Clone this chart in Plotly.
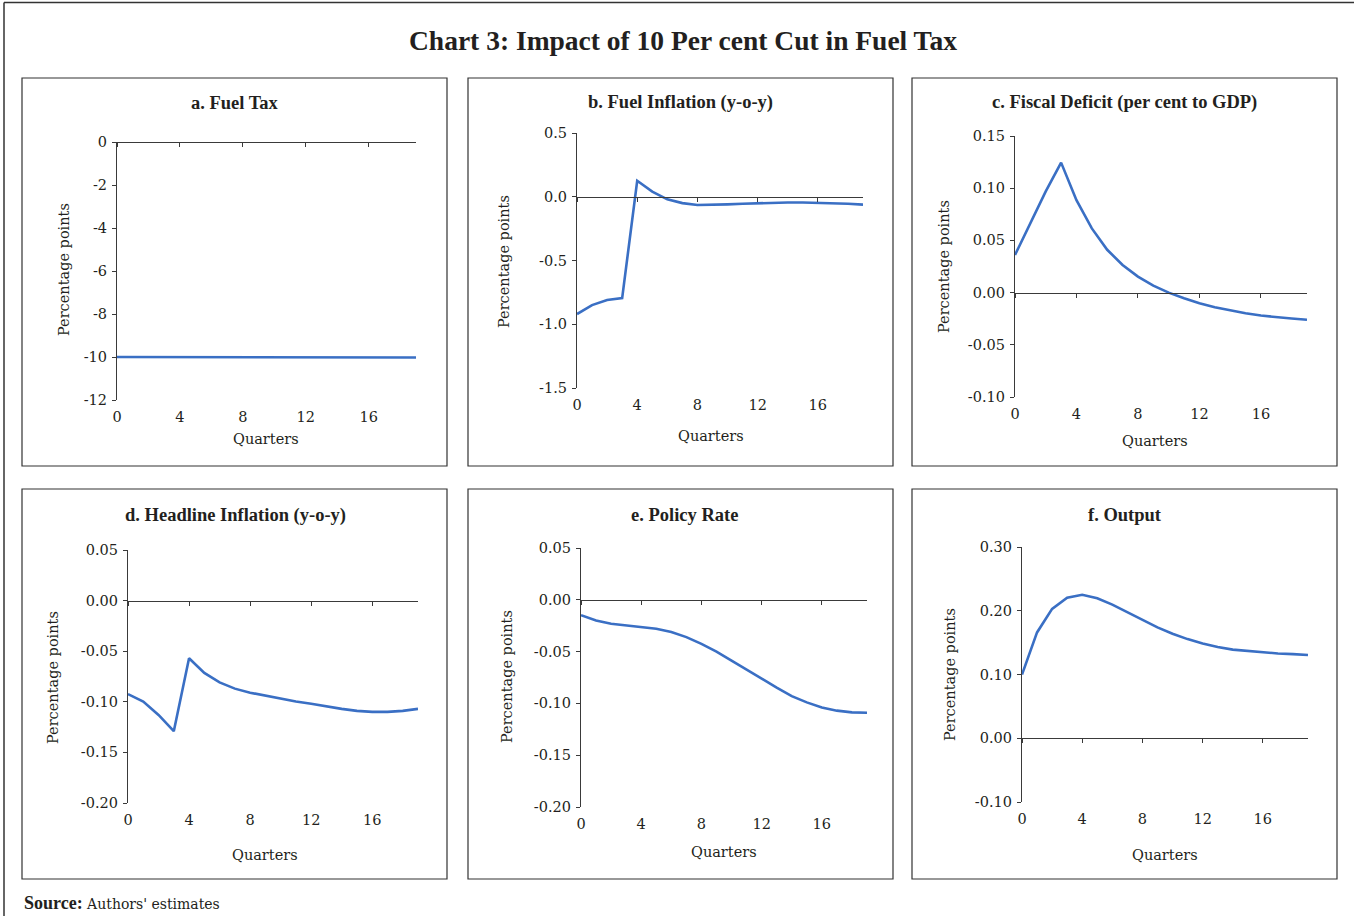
import plotly.graph_objects as go

W, H = 1354, 916

quarters = list(range(20))

fuel_tax = [-10.0] * 10 + [-10.02] * 10
fuel_inflation = [-0.92, -0.85, -0.81, -0.795, 0.125, 0.04, -0.02, -0.05, -0.065, -0.065,
                  -0.06, -0.055, -0.05, -0.045, -0.045, -0.045, -0.047, -0.05, -0.055, -0.062]
fiscal_deficit = [0.036, 0.067, 0.097, 0.1245, 0.0885, 0.0615, 0.041, 0.0265, 0.0153, 0.0067,
                  0.0, -0.0054, -0.0102, -0.014, -0.017, -0.0197, -0.022, -0.0236, -0.0248, -0.026]
headline_inflation = [-0.0924, -0.0997, -0.113, -0.129, -0.057, -0.0715, -0.0808, -0.087, -0.091, -0.094,
                      -0.097, -0.0997, -0.102, -0.1046, -0.107, -0.109, -0.110, -0.110, -0.109, -0.107]
policy_rate = [-0.0148, -0.020, -0.0232, -0.0248, -0.026, -0.028, -0.031, -0.036, -0.0426, -0.050,
               -0.0587, -0.0674, -0.0765, -0.0848, -0.093, -0.099, -0.104, -0.107, -0.1087, -0.109]
output = [0.100, 0.166, 0.203, 0.2205, 0.225, 0.2195, 0.2096, 0.198, 0.1857, 0.174,
          0.164, 0.1555, 0.1487, 0.143, 0.139, 0.1368, 0.1347, 0.133, 0.132, 0.1305]

panel_titles = ["a. Fuel Tax", "b. Fuel Inflation (y-o-y)", "c. Fiscal Deficit (per cent to GDP)",
                "d. Headline Inflation (y-o-y)", "e. Policy Rate", "f. Output"]
series = [fuel_tax, fuel_inflation, fiscal_deficit, headline_inflation, policy_rate, output]

y_tickvals = [
    [0, -2, -4, -6, -8, -10, -12],
    [0.5, 0.0, -0.5, -1.0, -1.5],
    [0.15, 0.10, 0.05, 0.0, -0.05, -0.10],
    [0.05, 0.0, -0.05, -0.10, -0.15, -0.20],
    [0.05, 0.0, -0.05, -0.10, -0.15, -0.20],
    [0.30, 0.20, 0.10, 0.0, -0.10],
]
y_ticktext = [
    ["0", "-2", "-4", "-6", "-8", "-10", "-12"],
    ["0.5", "0.0", "-0.5", "-1.0", "-1.5"],
    ["0.15", "0.10", "0.05", "0.00", "-0.05", "-0.10"],
    ["0.05", "0.00", "-0.05", "-0.10", "-0.15", "-0.20"],
    ["0.05", "0.00", "-0.05", "-0.10", "-0.15", "-0.20"],
    ["0.30", "0.20", "0.10", "0.00", "-0.10"],
]
x_tickvals = [0, 4, 8, 12, 16]
x_ticktext = ["0", "4", "8", "12", "16"]
x_range = [0, 19]

# layout geometry (pixels)
plot_px = [  # x0, x1, y_top, y_bottom
    (117, 416, 142, 400),
    (577, 863, 133, 388),
    (1015, 1307, 136, 397),
    (128, 418, 550, 803),
    (581, 867, 548, 807),
    (1022, 1308, 547, 802),
]
boxes_px = [
    (22, 447, 78, 466), (468, 893, 78, 466), (912, 1337, 78, 466),
    (22, 447, 489, 879), (468, 893, 489, 879), (912, 1337, 489, 879),
]
title_pos = [(235, 103), (680, 103), (1124, 103), (235, 515), (684, 515), (1125, 515)]
ylab_pos = [(64, 270), (504, 262), (944, 267), (53, 677), (507, 677), (950, 675)]
xlab_pos = [(266, 439), (711, 436), (1155, 441), (265, 855), (724, 852), (1165, 855)]


def fx(p):
    return p / W


def fy(p):
    return 1 - p / H


FONT = "DejaVu Serif"
TFONT = "Liberation Serif"
TXT = "#231f20"
AX = "#3a3a3a"
LINE = "#3a6fc4"

fig = go.Figure()
layout = dict(
    width=W, height=H, margin=dict(l=0, r=0, t=0, b=0, pad=0, autoexpand=False),
    paper_bgcolor="white", plot_bgcolor="white", showlegend=False,
    font=dict(family=FONT, size=14, color=TXT),
)
shapes = []
annotations = []

for i in range(6):
    n = i + 1
    xs = "" if n == 1 else str(n)
    ox = str(n + 6)
    x0, x1, yt, yb = plot_px[i]
    ymin, ymax = min(y_tickvals[i]), max(y_tickvals[i])
    fig.add_trace(go.Scatter(x=quarters, y=series[i], mode="lines",
                             line=dict(color=LINE, width=2.6),
                             xaxis="x" + xs, yaxis="y" + xs, hoverinfo="skip"))
    # invisible trace bound to the zero-crossing axis
    fig.add_trace(go.Scatter(x=quarters, y=series[i], mode="lines", opacity=0,
                             line=dict(width=0), xaxis="x" + ox, yaxis="y" + xs,
                             hoverinfo="skip"))
    dom_y = [fy(yb), fy(yt)]
    layout["xaxis" + xs] = dict(
        domain=[fx(x0), fx(x1)], anchor="y" + xs, range=x_range, automargin=False,
        showline=False, showgrid=False, zeroline=False, ticks="",
        tickvals=x_tickvals, ticktext=x_ticktext, ticklabelstandoff=6,
        tickfont=dict(family=FONT, size=14.5, color=TXT),
    )
    pos = dom_y[0] + (0 - ymin) / (ymax - ymin) * (dom_y[1] - dom_y[0])
    layout["xaxis" + ox] = dict(
        overlaying="x" + xs, anchor="free", position=pos, range=x_range, automargin=False,
        showline=True, linecolor=AX, linewidth=1.2, showgrid=False, zeroline=False,
        ticks="outside", ticklen=4, tickcolor=AX, tickwidth=1.2,
        tickvals=x_tickvals, showticklabels=False,
    )
    layout["yaxis" + xs] = dict(
        domain=dom_y, anchor="x" + xs, range=[ymin, ymax], automargin=False,
        showline=True, linecolor=AX, linewidth=1.2, showgrid=False, zeroline=False,
        ticks="outside", ticklen=4, tickcolor=AX, tickwidth=1.2,
        tickvals=y_tickvals[i], ticktext=y_ticktext[i], ticklabelstandoff=2,
        tickfont=dict(family=FONT, size=14.5, color=TXT),
    )
    bx0, bx1, by0, by1 = boxes_px[i]
    shapes.append(dict(type="rect", xref="paper", yref="paper",
                       x0=fx(bx0), x1=fx(bx1), y0=fy(by1), y1=fy(by0),
                       line=dict(color="#333333", width=1.2), fillcolor="rgba(0,0,0,0)"))
    tx, ty = title_pos[i]
    annotations.append(dict(text="<b>" + panel_titles[i] + "</b>", x=fx(tx), y=fy(ty),
                            xref="paper", yref="paper", showarrow=False,
                            xanchor="center", yanchor="middle",
                            font=dict(family=TFONT, size=18.5, color=TXT)))
    lx, ly = ylab_pos[i]
    annotations.append(dict(text="Percentage points", x=fx(lx), y=fy(ly), textangle=-90,
                            xref="paper", yref="paper", showarrow=False,
                            xanchor="center", yanchor="middle",
                            font=dict(family=FONT, size=14.5, color=TXT)))
    qx, qy = xlab_pos[i]
    annotations.append(dict(text="Quarters", x=fx(qx), y=fy(qy),
                            xref="paper", yref="paper", showarrow=False,
                            xanchor="center", yanchor="middle",
                            font=dict(family=FONT, size=14.5, color=TXT)))

# outer frame (top and left edges)
shapes.append(dict(type="line", xref="paper", yref="paper", x0=fx(4), x1=1, y0=fy(2.5), y1=fy(2.5),
                   line=dict(color="#333333", width=1.5)))
shapes.append(dict(type="line", xref="paper", yref="paper", x0=fx(4), x1=fx(4), y0=0, y1=fy(2.5),
                   line=dict(color="#333333", width=1.5)))

annotations.append(dict(text="<b>Chart 3: Impact of 10 Per cent Cut in Fuel Tax</b>",
                        x=fx(683), y=fy(41), xref="paper", yref="paper", showarrow=False,
                        xanchor="center", yanchor="middle",
                        font=dict(family=TFONT, size=27.5, color=TXT)))
annotations.append(dict(text="<span style='font-family:Liberation Serif;font-size:18px'><b>Source:</b></span> Authors' estimates",
                        x=fx(22), y=fy(903), xref="paper", yref="paper", showarrow=False,
                        xanchor="left", yanchor="middle",
                        font=dict(family=FONT, size=14, color=TXT)))

layout["shapes"] = shapes
layout["annotations"] = annotations
fig.update_layout(**layout)
fig.write_html("out.html", config={"displayModeBar": False},
               post_script="document.documentElement.style.margin='0px';document.body.style.margin='0px';"
                           "document.body.style.padding='0px';document.body.style.overflow='hidden';"
                           "document.documentElement.style.overflow='hidden';")
